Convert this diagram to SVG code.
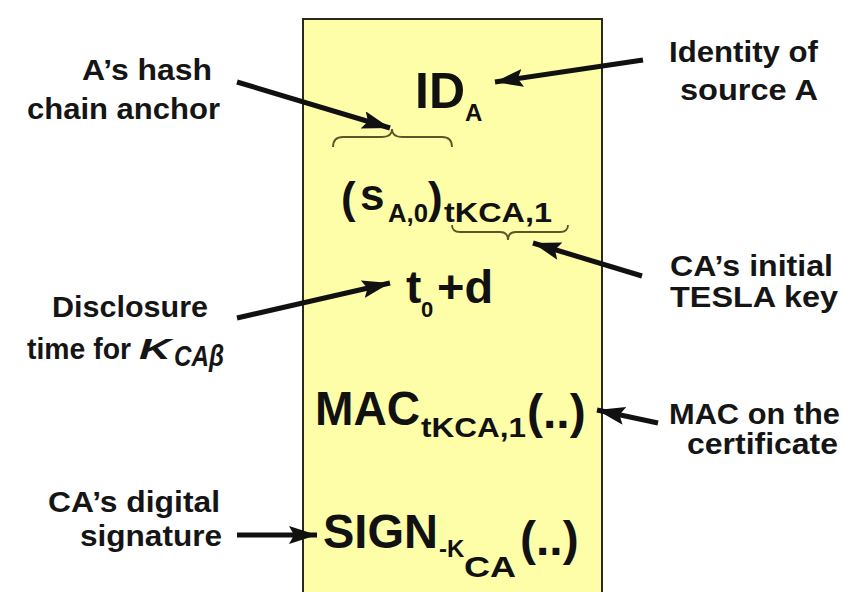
<svg xmlns="http://www.w3.org/2000/svg" width="843" height="592" viewBox="0 0 843 592">
<defs>
<style>
.lbl{font-family:"Liberation Sans",Arial,sans-serif;font-weight:bold;font-size:29px;fill:#151515}
.m{font-family:"Liberation Sans",Arial,sans-serif;font-weight:bold;fill:#111}
.arr{stroke:#111;stroke-width:5;fill:none;marker-end:url(#ah)}
.brace{stroke:#5e5428;stroke-width:1.8;fill:none}
</style>
<marker id="ah" markerUnits="userSpaceOnUse" markerWidth="30" markerHeight="20" refX="28" refY="9" orient="auto">
<path d="M0,0 L28,9 L0,18 L5,9 Z" fill="#111"/>
</marker>
</defs>
<rect width="843" height="592" fill="#ffffff"/>
<g id="certificate">
<rect x="303" y="19" width="299" height="600" fill="#fffea8" stroke="#2a2a1a" stroke-width="2"/>
</g>
<g id="id-field">
<text class="m" x="415" y="108" font-size="50">ID</text>
<text class="m" x="465" y="121" font-size="24">A</text>
</g>
<g id="anchor-field">
<path class="brace" d="M333,147 Q333,137 343,137 L382,137 Q392,137 392,129 Q392,137 402,137 L442,137 Q452,137 452,147"/>
<text class="m" x="341" y="213" font-size="44">(</text>
<text class="m" x="360" y="210" font-size="44">s</text>
<text class="m" x="388" y="222" font-size="25" textLength="40" lengthAdjust="spacingAndGlyphs">A,0</text>
<text class="m" x="428" y="213" font-size="44">)</text>
<text class="m" x="444" y="222" font-size="27" textLength="108" lengthAdjust="spacingAndGlyphs">tKCA,1</text>
<path class="brace" d="M452,225 Q452,232 460,232 L500,232 Q508,232 508,240 Q508,232 516,232 L560,232 Q568,232 568,225"/>
</g>
<g id="time-field">
<text class="m" x="406" y="303" font-size="46">t</text>
<text class="m" x="421" y="317" font-size="22">0</text>
<text class="m" x="437" y="303" font-size="47">+d</text>
</g>
<g id="mac-field">
<text class="m" x="315" y="425" font-size="48" textLength="105" lengthAdjust="spacingAndGlyphs">MAC</text>
<text class="m" x="421" y="437" font-size="27" textLength="105" lengthAdjust="spacingAndGlyphs">tKCA,1</text>
<text class="m" x="527" y="428" font-size="48">(..)</text>
</g>
<g id="sign-field">
<text class="m" x="323" y="548" font-size="48" textLength="115" lengthAdjust="spacingAndGlyphs">SIGN</text>
<text class="m" x="439" y="557" font-size="24">-K</text>
<text class="m" x="464" y="577" font-size="30" textLength="52" lengthAdjust="spacingAndGlyphs">CA</text>
<text class="m" x="520" y="555" font-size="48">(..)</text>
</g>
<g id="label-anchor">
<text class="lbl" x="82" y="80" textLength="130" lengthAdjust="spacingAndGlyphs">A’s hash</text>
<text class="lbl" x="27" y="119" textLength="193" lengthAdjust="spacingAndGlyphs">chain anchor</text>
</g>
<g id="label-disclosure">
<text class="lbl" x="52" y="317" textLength="156" lengthAdjust="spacingAndGlyphs">Disclosure</text>
<text class="lbl" x="27" y="359" textLength="104" lengthAdjust="spacingAndGlyphs">time for</text>
<text class="lbl" x="139" y="359" font-style="italic" textLength="32" lengthAdjust="spacingAndGlyphs">K</text>
<text class="lbl" x="174" y="366" font-size="17" font-style="italic" textLength="50" lengthAdjust="spacingAndGlyphs">CAβ</text>
</g>
<g id="label-signature">
<text class="lbl" x="48" y="512" textLength="172" lengthAdjust="spacingAndGlyphs">CA’s digital</text>
<text class="lbl" x="80" y="546" textLength="142" lengthAdjust="spacingAndGlyphs">signature</text>
</g>
<g id="label-identity">
<text class="lbl" x="669" y="62" textLength="149" lengthAdjust="spacingAndGlyphs">Identity of</text>
<text class="lbl" x="680" y="100" textLength="138" lengthAdjust="spacingAndGlyphs">source A</text>
</g>
<g id="label-tesla">
<text class="lbl" x="670" y="276" textLength="163" lengthAdjust="spacingAndGlyphs">CA’s initial</text>
<text class="lbl" x="670" y="307" textLength="168" lengthAdjust="spacingAndGlyphs">TESLA key</text>
</g>
<g id="label-mac">
<text class="lbl" x="669" y="424" textLength="171" lengthAdjust="spacingAndGlyphs">MAC on the</text>
<text class="lbl" x="687" y="454" textLength="151" lengthAdjust="spacingAndGlyphs">certificate</text>
</g>
<g id="connectors">
<line class="arr" x1="237" y1="82" x2="390" y2="128"/>
<line class="arr" x1="643" y1="60" x2="495" y2="82"/>
<line class="arr" x1="642" y1="276" x2="533" y2="243"/>
<line class="arr" x1="237" y1="318" x2="390" y2="283"/>
<line class="arr" x1="658" y1="423" x2="597" y2="410"/>
<line class="arr" x1="237" y1="535" x2="317" y2="535"/>
</g>
</svg>
